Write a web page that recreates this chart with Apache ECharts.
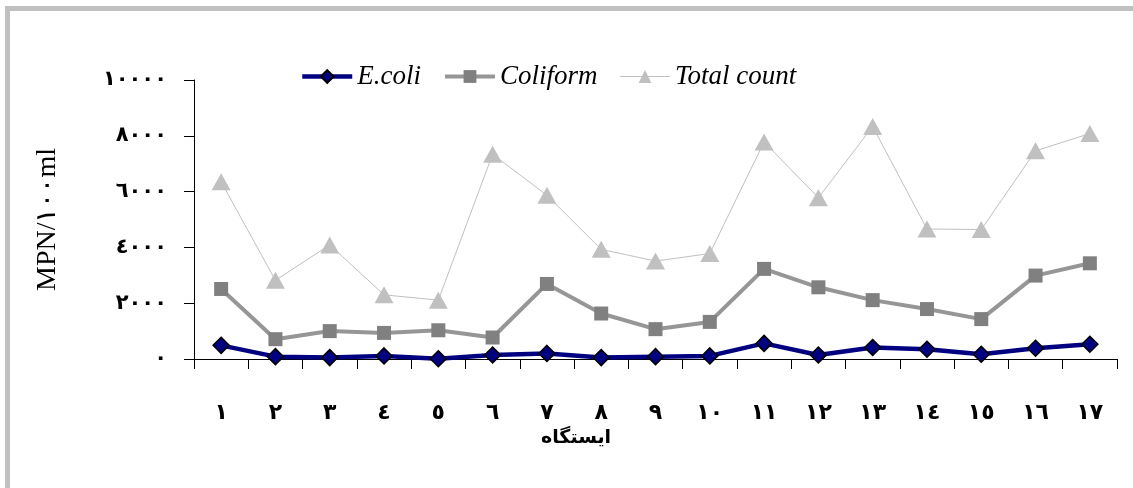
<!DOCTYPE html>
<html>
<head>
<meta charset="utf-8">
<script src="https://cdn.jsdelivr.net/npm/echarts@6/dist/echarts.min.js"></script>
<style>
html,body{margin:0;padding:0;background:#fff;}
#c{width:1133px;height:488px;}
</style>
</head>
<body>
<div id="c"></div>
<script>
const categories = ['١','٢','٣','٤','٥','٦','٧','٨','٩','١٠','١١','١٢','١٣','١٤','١٥','١٦','١٧'];
const ecoli = [490, 85, 50, 110, 10, 145, 200, 50, 85, 110, 560, 145, 410, 350, 170, 385, 530];
const coliform = [2510, 710, 1000, 935, 1030, 770, 2690, 1630, 1070, 1330, 3230, 2570, 2110, 1790, 1430, 2990, 3430];
const totalCount = [6350, 2820, 4090, 2300, 2110, 7340, 5870, 3930, 3510, 3780, 7780, 5780, 8330, 4660, 4640, 7460, 8080];
const yTickLabels = ['٠','٢٠٠٠','٤٠٠٠','٦٠٠٠','٨٠٠٠','١٠٠٠٠'];
const seriesNames = ['E.coli','Coliform','Total count'];
const yAxisTitle = 'MPN/١٠٠ml';
const xAxisTitle = 'ایستگاه';

const chart = echarts.init(document.getElementById('c'), null, {renderer:'canvas'});
chart.setOption({
  backgroundColor:'#fff',
  animation:false,
  graphic:[
    {type:'rect', shape:{x:5,y:6,width:1140,height:5}, style:{fill:'#c0c0c0'}, silent:true},
    {type:'rect', shape:{x:5,y:6,width:5,height:490}, style:{fill:'#c0c0c0'}, silent:true},
    {type:'text', left:541, top:429, style:{text:xAxisTitle, font:'bold 19px "DejaVu Sans"', fill:'#000'}}
  ],
  legend:{
    left:295, top:58,
    itemWidth:50, itemHeight:16, itemGap:22,
    textStyle:{fontFamily:'Liberation Serif', fontStyle:'italic', fontSize:27, color:'#000'},
    data:[
      {name:seriesNames[0], lineStyle:{width:4.5}},
      {name:seriesNames[1], lineStyle:{width:4}},
      {name:seriesNames[2], lineStyle:{width:1}}
    ]
  },
  grid:{left:194, right:16, top:80, bottom:129, containLabel:false},
  xAxis:{
    type:'category', data:categories, boundaryGap:true,
    axisLine:{lineStyle:{color:'#000', width:1}},
    axisTick:{show:true, length:10, inside:false, alignWithLabel:false, lineStyle:{color:'#000'}},
    axisLabel:{margin:43, fontFamily:'DejaVu Sans', fontWeight:'bold', fontSize:22, color:'#000', interval:0}
  },
  yAxis:{
    type:'value', min:0, max:10000, interval:2000,
    name:yAxisTitle, nameLocation:'middle', nameRotate:90, nameGap:132,
    nameTextStyle:{fontFamily:'Liberation Serif', fontSize:28, color:'#000'},
    axisLine:{show:true, lineStyle:{color:'#000', width:1}},
    axisTick:{show:true, length:10, lineStyle:{color:'#000'}},
    splitLine:{show:false},
    axisLabel:{margin:27, fontFamily:'DejaVu Sans', fontWeight:'bold', fontSize:21, color:'#000',
      formatter:function(v){ return yTickLabels[Math.round(v/2000)]; }}
  },
  series:[
    {name:seriesNames[2], type:'line', data:totalCount, z:2,
     symbol:'triangle', symbolSize:[19,17],
     lineStyle:{color:'#c0c0c0', width:1},
     itemStyle:{color:'#c0c0c0', borderWidth:0}},
    {name:seriesNames[1], type:'line', data:coliform, z:3,
     symbol:'rect', symbolSize:14,
     lineStyle:{color:'#969696', width:4},
     itemStyle:{color:'#808080', borderWidth:0}},
    {name:seriesNames[0], type:'line', data:ecoli, z:4,
     symbol:'diamond', symbolSize:16,
     lineStyle:{color:'#000080', width:4.5},
     itemStyle:{color:'#000080', borderColor:'#000', borderWidth:1.5}}
  ]
});
</script>
</body>
</html>
